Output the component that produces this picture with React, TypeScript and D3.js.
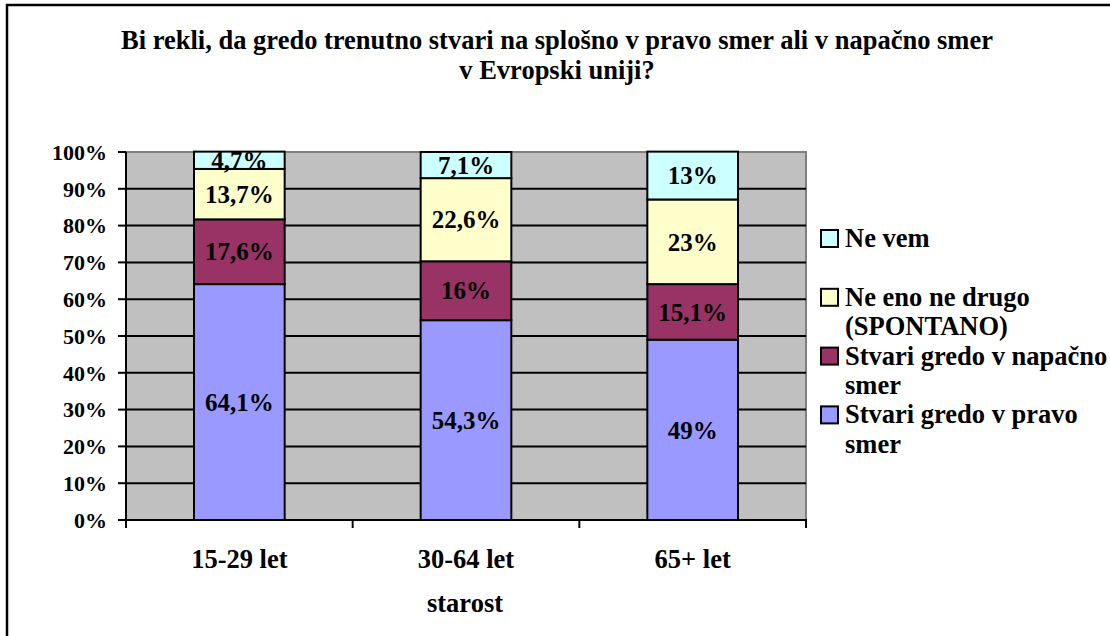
import React from "react";
import * as d3 from "d3";

const categories = ["15-29 let", "30-64 let", "65+ let"];
const seriesNames = [
  "Stvari gredo v pravo smer",
  "Stvari gredo v napačno smer",
  "Ne eno ne drugo (SPONTANO)",
  "Ne vem",
];
const pravo = [64.1, 54.3, 49];
const napacno = [17.6, 16, 15.1];
const neEno = [13.7, 22.6, 23];
const neVem = [4.7, 7.1, 13];
const colors = ["#9999FF", "#993366", "#FFFFCC", "#CCFFFF"];
const yTicks = [0, 10, 20, 30, 40, 50, 60, 70, 80, 90, 100];
const titleLines = [
  "Bi rekli, da gredo trenutno stvari na splošno v pravo smer ali v napačno smer",
  "v Evropski uniji?",
];
// legend entries top to bottom, wrapped like the original
const legendItems = [
  { series: 3, lines: ["Ne vem"] },
  { series: 2, lines: ["Ne eno ne drugo", "(SPONTANO)"] },
  { series: 1, lines: ["Stvari gredo v napačno", "smer"] },
  { series: 0, lines: ["Stvari gredo v pravo", "smer"] },
];

const FONT = "Liberation Serif, Times New Roman, DejaVu Serif, serif";

const fmt = (v: number) => String(v).replace(".", ",") + "%";

export default function App() {
  const width = 1110;
  const height = 636;
  const plot = { left: 126, right: 806, top: 152, bottom: 520 };

  const x = d3
    .scaleBand<string>()
    .domain(categories)
    .range([plot.left, plot.right])
    .paddingInner(0.6)
    .paddingOuter(0.3);
  const y = d3.scaleLinear().domain([0, 100]).range([plot.bottom, plot.top]);

  const rows = categories.map((c, i) => ({
    cat: c,
    s0: pravo[i],
    s1: napacno[i],
    s2: neEno[i],
    s3: neVem[i],
  }));
  const layers = d3.stack<any>().keys(["s0", "s1", "s2", "s3"])(rows);

  const step = x.step();
  const catTicks = d3.range(categories.length + 1).map((i) => plot.left + i * step);

  const lineH = 29.4;
  const legendLines: { text: string; y: number; first: boolean; series: number }[] = [];
  let ly = 247;
  legendItems.forEach((it, k) => {
    if (k === 1) ly += lineH;
    it.lines.forEach((t, j) => {
      legendLines.push({ text: t, y: ly, first: j === 0, series: it.series });
      ly += lineH;
    });
  });

  return (
    <svg
      width={width}
      height={height}
      style={{
        position: "absolute",
        left: 0,
        top: 0,
        background: "#fff",
        fontFamily: FONT,
        fontWeight: 700,
      }}
    >
      <rect x={7} y={5} width={1300} height={800} fill="#fff" stroke="#000" strokeWidth={2.5} />

      {titleLines.map((t, i) => (
        <text key={i} x={557} y={49 + i * 30} textAnchor="middle" fontSize={26.5}>
          {t}
        </text>
      ))}

      <rect
        x={plot.left}
        y={plot.top}
        width={plot.right - plot.left}
        height={plot.bottom - plot.top}
        fill="#C0C0C0"
        stroke="#808080"
        strokeWidth={2}
      />
      {yTicks
        .filter((t) => t > 0 && t < 100)
        .map((t) => (
          <line key={t} x1={plot.left} x2={plot.right} y1={y(t)} y2={y(t)} stroke="#000" strokeWidth={2} />
        ))}

      {layers.map((layer, si) =>
        layer.map((d, ci) => (
          <rect
            key={`${si}-${ci}`}
            x={x(categories[ci])!}
            y={y(d[1])}
            width={x.bandwidth()}
            height={y(d[0]) - y(d[1])}
            fill={colors[si]}
            stroke="#000"
            strokeWidth={2}
          />
        ))
      )}
      {layers.map((layer, si) =>
        layer.map((d, ci) => (
          <text
            key={`l${si}-${ci}`}
            x={x(categories[ci])! + x.bandwidth() / 2}
            y={(y(d[0]) + y(d[1])) / 2}
            dy="0.35em"
            textAnchor="middle"
            fontSize={25}
          >
            {fmt((d.data as any)[`s${si}`])}
          </text>
        ))
      )}

      <line x1={plot.left} x2={plot.left} y1={plot.top} y2={plot.bottom + 8} stroke="#000" strokeWidth={2} />
      <line x1={plot.left - 8} x2={plot.right + 1} y1={plot.bottom} y2={plot.bottom} stroke="#000" strokeWidth={2} />
      {yTicks.map((t) => (
        <g key={t}>
          <line x1={plot.left - 8} x2={plot.left} y1={y(t)} y2={y(t)} stroke="#000" strokeWidth={2} />
          <text x={107} y={y(t)} dy="0.35em" textAnchor="end" fontSize={22}>
            {t}%
          </text>
        </g>
      ))}
      {catTicks.map((cx, i) => (
        <line key={i} x1={cx} x2={cx} y1={plot.bottom} y2={plot.bottom + 8} stroke="#000" strokeWidth={2} />
      ))}
      {categories.map((c) => (
        <text key={c} x={x(c)! + x.bandwidth() / 2} y={568} textAnchor="middle" fontSize={26.5}>
          {c}
        </text>
      ))}
      <text x={465} y={612} textAnchor="middle" fontSize={26.5}>
        starost
      </text>

      {legendLines.map((l, i) => (
        <g key={i}>
          {l.first && (
            <rect x={821} y={l.y - 17} width={17} height={17} fill={colors[l.series]} stroke="#000" strokeWidth={2} />
          )}
          <text x={845} y={l.y} fontSize={26.5}>
            {l.text}
          </text>
        </g>
      ))}
    </svg>
  );
}
